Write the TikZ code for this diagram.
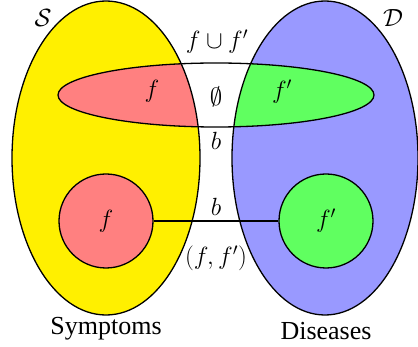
\documentclass[tikz,border=0pt]{standalone}
\usepackage{fontspec}
\setmainfont{Liberation Serif}
\usetikzlibrary{shapes.geometric}
\definecolor{ylw}{RGB}{255,240,0}
\definecolor{blu}{RGB}{153,153,255}
\definecolor{rd}{RGB}{255,128,128}
\definecolor{gr}{RGB}{96,255,96}
\tikzset{
  outline/.style={draw=black, line width=1.3pt},
  lbl/.style={inner sep=0pt, font=\fontsize{26}{30}\selectfont},
  small/.style={circle, outline, minimum size=94pt, inner sep=0pt, font=\fontsize{26}{30}\selectfont}
}
\begin{document}
\begin{tikzpicture}[x=1pt,y=-1pt]
\useasboundingbox (0,0) rectangle (418,347);
% big sets
\fill[ylw] (106,158) ellipse [x radius=94pt, y radius=157pt];
\fill[blu] (325,158) ellipse [x radius=93pt, y radius=157pt];
\begin{scope}
  \clip (216,95) ellipse [x radius=158pt, y radius=32pt];
  \fill[white] (216,95) ellipse [x radius=158pt, y radius=32pt];
  \fill[rd] (106,158) ellipse [x radius=94pt, y radius=157pt];
  \fill[gr] (325,158) ellipse [x radius=93pt, y radius=157pt];
\end{scope}
\draw[outline] (106,158) ellipse [x radius=94pt, y radius=157pt];
\draw[outline] (325,158) ellipse [x radius=93pt, y radius=157pt];
\draw[outline] (216,95) ellipse [x radius=158pt, y radius=32pt];
% labels of the band
\node[lbl] (fu) at (217,42) {$f\cup f'$};
\node[lbl] (es) at (216,97) {$\emptyset$};
\node[lbl] (b1) at (216,141) {$b$};
\node[lbl] (lf) at (152,91) {$f$};
\node[lbl] (lg) at (282,92) {$f'$};
\node[lbl] (S) at (43,18) {$\mathcal{S}$};
\node[lbl] (D) at (393,18) {$\mathcal{D}$};
% small circles
\node[small, fill=rd] (c1) at (106,221) {$f$};
\node[small, fill=gr] (c2) at (326,221) {$f'$};
\draw[outline] (c1) -- (c2);
\node[lbl] (b2) at (216,207) {$b$};
\node[lbl] (pr) at (216,258) {$(f,f')$};
\node[lbl] (sy) at (106,329) {Symptoms};
\node[lbl] (di) at (326,331) {Diseases};
\end{tikzpicture}
\end{document}
